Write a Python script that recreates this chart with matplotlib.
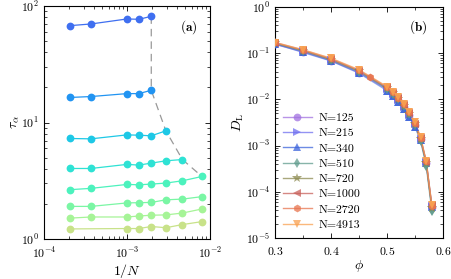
import matplotlib
matplotlib.use("Agg")
import matplotlib.pyplot as plt
import numpy as np
from matplotlib.ticker import LogLocator, MultipleLocator, NullFormatter

plt.rcParams.update({
    "font.family": ["cmr10", "DejaVu Serif"],
    "mathtext.fontset": "cm",
    "axes.formatter.use_mathtext": True,
    "axes.unicode_minus": False,
    "font.size": 8,
})

# ---------------- Panel (a) data ----------------
N_vals = [4913, 2720, 1000, 720, 510, 340, 215, 125]
invN = [1.0 / n for n in N_vals]

tau_1 = [67.8, 70.1, 77.4, 76.9, 81.5]
tau_2 = [16.4, 16.7, 17.7, 17.7, 18.9]
tau_3 = [7.29, 7.24, 7.83, 7.78, 7.69, 8.48]
tau_4 = [4.03, 4.03, 4.37, 4.31, 4.48, 4.69, 4.81]
tau_5 = [2.65, 2.72, 2.94, 2.92, 2.96, 3.02, 3.16, 3.44]
tau_6 = [1.905, 1.905, 2.04, 2.05, 2.06, 2.17, 2.20, 2.31]
tau_7 = [1.51, 1.545, 1.545, 1.575, 1.60, 1.61, 1.67, 1.81]
tau_8 = [1.22, 1.23, 1.23, 1.28, 1.25, 1.33, 1.41]
invN_8 = [1.0 / 4913, 1.0 / 1000, 1.0 / 720, 1.0 / 510, 1.0 / 340, 1.0 / 215, 1.0 / 125]

tau_series = [tau_1, tau_2, tau_3, tau_4, tau_5, tau_6, tau_7, tau_8]
tau_colors = ["#3f6ff0", "#2194f2", "#1ec8e6", "#2ee2d4", "#4cf2bd",
              "#7af6a4", "#a6f497", "#c8e289"]

# dashed guide through the last point of each series
guide_x = [1.0 / 510, 1.0 / 510, 1.0 / 340, 1.0 / 215, 1.0 / 125]
guide_y = [81.5, 18.9, 8.48, 4.81, 3.44]

# ---------------- Panel (b) data ----------------
phi_main = [0.30, 0.35, 0.40, 0.45, 0.50, 0.51, 0.52, 0.53, 0.54, 0.55, 0.56, 0.57, 0.58]
phi_2720 = [0.30, 0.35, 0.40, 0.45, 0.47, 0.50, 0.51, 0.52, 0.53, 0.54, 0.55, 0.56, 0.57, 0.58]

D_125 = [0.155, 0.107, 0.069, 0.038, 0.0165, 0.0127, 0.0096, 0.0068, 0.0046, 0.0028, 0.0014, 0.00043, 4.8e-5]
D_215 = [0.158, 0.109, 0.070, 0.039, 0.0168, 0.0130, 0.0098, 0.0070, 0.0047, 0.0029, 0.0014, 0.00044, 4.9e-5]
D_340 = [0.160, 0.104, 0.068, 0.037, 0.0155, 0.0120, 0.0088, 0.0062, 0.0041, 0.0025, 0.0013, 0.00041, 4.6e-5]
D_510 = [0.163, 0.112, 0.072, 0.040, 0.0172, 0.0133, 0.0100, 0.0071, 0.0048, 0.0028, 0.00125, 0.00037, 3.8e-5]
D_720 = [0.165, 0.113, 0.073, 0.041, 0.0175, 0.0136, 0.0102, 0.0073, 0.0049, 0.0029, 0.0014, 0.00042, 4.5e-5]
D_1000 = [0.168, 0.116, 0.075, 0.042, 0.0182, 0.0140, 0.0106, 0.0076, 0.0051, 0.0030, 0.00145, 0.00045, 5.3e-5]
D_2720 = [0.172, 0.118, 0.077, 0.043, 0.031, 0.0185, 0.0143, 0.0109, 0.0078, 0.0053, 0.0031, 0.00148, 0.00046, 5.0e-5]
D_4913 = [0.170, 0.119, 0.078, 0.044, 0.0190, 0.0146, 0.0111, 0.0079, 0.0054, 0.0032, 0.0015, 0.00046, 5.1e-5]

D_labels = ["N=125", "N=215", "N=340", "N=510", "N=720", "N=1000", "N=2720", "N=4913"]
D_series = [D_125, D_215, D_340, D_510, D_720, D_1000, D_2720, D_4913]
D_phis = [phi_main] * 6 + [phi_2720, phi_main]
D_markers = ["o", ">", "^", "d", "*", "<", "h", "v"]
D_colors = ["#a070e0", "#6f6ff0", "#3c64dc", "#5f9b8c", "#8c8a50", "#c8605a", "#e8744e", "#f9a050"]

# ---------------- Figure ----------------
fig = plt.figure(figsize=(4.52, 2.79), dpi=100)
ax1 = fig.add_axes([44 / 452, 40 / 279, 166 / 452, 233 / 279])
ax2 = fig.add_axes([275 / 452, 41 / 279, 168 / 452, 231 / 279])

ax1.plot(guide_x, guide_y, color="#999999", lw=0.9, ls=(0, (6, 4)), zorder=1)
for i, (ys, c) in enumerate(zip(tau_series, tau_colors)):
    xs = invN_8 if i == 7 else invN[:len(ys)]
    ax1.plot(xs, ys, "-o", color=c, lw=0.9, ms=5.6, mew=0, zorder=3)

ax1.set_xscale("log")
ax1.set_yscale("log")
ax1.set_xlim(1e-4, 1e-2)
ax1.set_ylim(1, 100)
ax1.set_xlabel(r"$1/N$", fontsize=10, labelpad=1)
ax1.set_ylabel(r"$\tau_\alpha$", fontsize=10, labelpad=0)
ax1.text(0.87, 0.91, r"$(\mathbf{a})$", transform=ax1.transAxes,
         ha="center", va="center", fontsize=9.5)

for i, (ys, ph, mk, c, lab) in enumerate(zip(D_series, D_phis, D_markers, D_colors, D_labels)):
    ms = 7 if mk == "*" else 5.6
    ax2.plot(ph, ys, "-", color=c, lw=1.0, alpha=0.55, zorder=2)
    ax2.plot(ph, ys, ls="none", marker=mk, color=c, ms=ms, mew=0, alpha=0.95, zorder=3 + i)
    # legend proxy
    ax2.plot([], [], "-", marker=mk, color=c, ms=ms, mew=0, lw=1.0, label=lab)

ax2.set_yscale("log")
ax2.set_xlim(0.3, 0.6)
ax2.set_ylim(1e-5, 1)
ax2.set_xlabel(r"$\phi$", fontsize=10, labelpad=1)
ax2.set_ylabel(r"$D_{\rm L}$", fontsize=10, labelpad=0)
ax2.xaxis.set_major_locator(MultipleLocator(0.1))
ax2.xaxis.set_minor_locator(MultipleLocator(0.05))
ax2.text(0.85, 0.915, r"$(\mathbf{b})$", transform=ax2.transAxes,
         ha="center", va="center", fontsize=9.5)

leg = ax2.legend(loc="lower left", frameon=False, fontsize=8.5, handlelength=2.4,
                 handletextpad=0.6, labelspacing=0.42, borderaxespad=0.3,
                 bbox_to_anchor=(0.0, 0.0))
for h in leg.get_lines():
    h.set_alpha(0.75)

for ax in (ax1, ax2):
    ax.tick_params(which="both", direction="in", top=True, right=True, labelsize=8.5)
    ax.tick_params(which="major", length=3.5, width=0.6)
    ax.tick_params(which="minor", length=2, width=0.5)
    ax.tick_params(axis="x", which="major", pad=5)
    for s in ax.spines.values():
        s.set_linewidth(0.8)
for ax in (ax1, ax2):
    ax.yaxis.set_minor_locator(LogLocator(base=10, subs=np.arange(2, 10), numticks=20))
    ax.yaxis.set_minor_formatter(NullFormatter())
ax1.xaxis.set_minor_locator(LogLocator(base=10, subs=np.arange(2, 10), numticks=20))
ax1.xaxis.set_minor_formatter(NullFormatter())

fig.savefig("out.png", dpi=100)
